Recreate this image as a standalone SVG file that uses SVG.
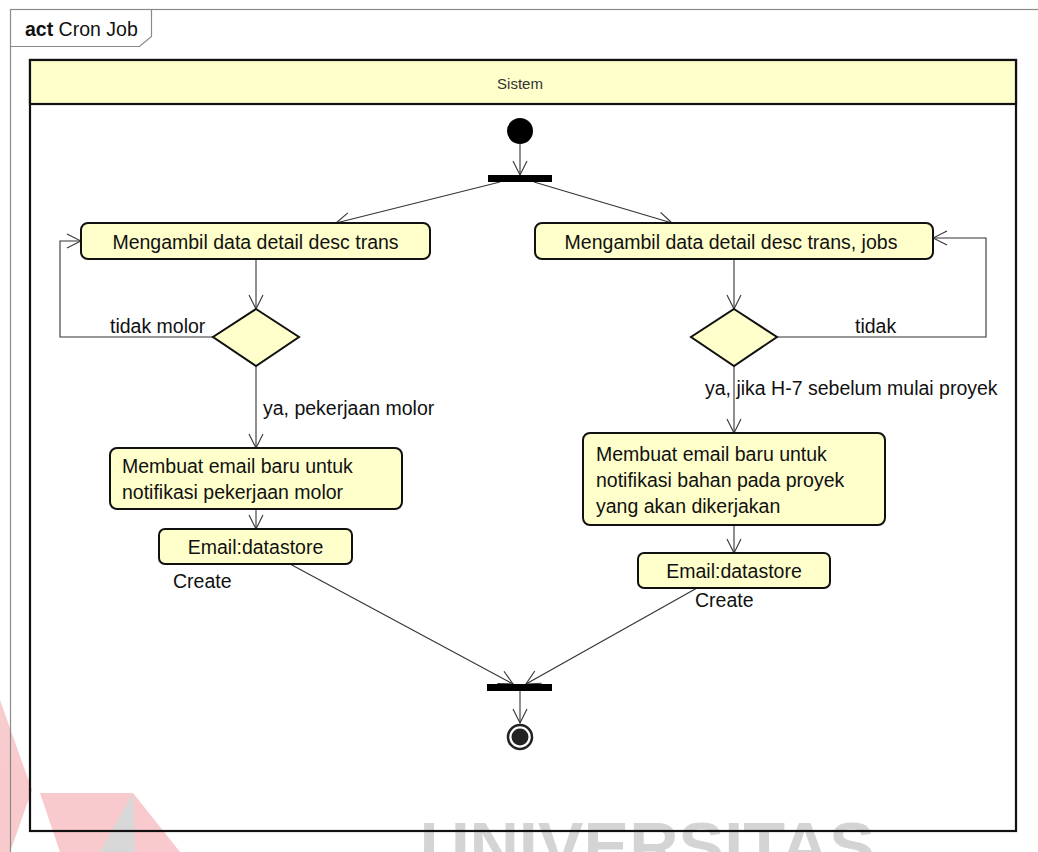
<svg xmlns="http://www.w3.org/2000/svg" width="1038" height="852" viewBox="0 0 1038 852">
  <defs>
    <style>
      .frame { fill: none; stroke: #8a8a8a; stroke-width: 1.2; }
      .lane { fill: #ffffff; stroke: #111; stroke-width: 2.2; }
      .laneHead { fill: #ffffcc; stroke: #111; stroke-width: 2.2; }
      .act { fill: #ffffcc; stroke: #111; stroke-width: 2; }
      .dec { fill: #ffffcc; stroke: #111; stroke-width: 2; }
      .bar { fill: #000; }
      .edge { fill: none; stroke: #333; stroke-width: 1.1; }
      text { font-family: "Liberation Sans", Arial, sans-serif; fill: #111; }
      .lbl { font-size: 19.5px; }
      .mid { text-anchor: middle; }
      .wm { fill: #d4d4d4; font-size: 66px; font-weight: bold; }
    </style>
    <marker id="open" viewBox="0 0 16 16" refX="15" refY="8" markerWidth="16" markerHeight="16" markerUnits="userSpaceOnUse" orient="auto">
      <path d="M1,1 L15,8 L1,15" fill="none" stroke="#333" stroke-width="1.1"/>
    </marker>
  </defs>

  <rect width="1038" height="852" fill="#ffffff"/>

  <!-- faint watermark at the bottom -->
  <g id="watermark">
    <g opacity="0.55">
      <polygon points="0,700 32,790 10,852 0,852" fill="#f3a0a6"/>
      <polygon points="40,793 133,793 180,852 60,852" fill="#f3a0a6"/>
      <polygon points="133,793 100,852 135,852" fill="#b8b8b8"/>
    </g>
    <text class="wm" x="420" y="869" textLength="455" lengthAdjust="spacingAndGlyphs">UNIVERSITAS</text>
  </g>

  <!-- diagram frame with name tab -->
  <g id="frame">
    <rect class="frame" x="10.5" y="9.5" width="1040" height="860"/>
    <path class="frame" d="M10.5,46.5 H139.5 L151.5,36.5 V9.5"/>
    <text x="25" y="36" style="font-size:19.5px"><tspan font-weight="bold">act</tspan> Cron Job</text>
  </g>

  <!-- swimlane -->
  <g id="lane-sistem">
    <rect class="lane" x="30" y="60" width="986" height="771" fill-opacity="0"/>
    <rect class="laneHead" x="30" y="60" width="986" height="44"/>
    <text x="520" y="89" class="mid" style="font-size:15px;fill:#333">Sistem</text>
  </g>

  <!-- connectors -->
  <g id="connectors">
    <line class="edge" x1="520" y1="144" x2="520" y2="175" marker-end="url(#open)"/>
    <line class="edge" x1="500" y1="182" x2="336" y2="223" marker-end="url(#open)"/>
    <line class="edge" x1="534" y1="182" x2="672" y2="223" marker-end="url(#open)"/>
    <line class="edge" x1="256" y1="259" x2="256" y2="309" marker-end="url(#open)"/>
    <polyline class="edge" points="213,337 60,337 60,241 81,241" marker-end="url(#open)"/>
    <line class="edge" x1="256" y1="366" x2="256" y2="448" marker-end="url(#open)"/>
    <line class="edge" x1="256" y1="509" x2="256" y2="529" marker-end="url(#open)"/>
    <line class="edge" x1="290" y1="564" x2="513" y2="684" marker-end="url(#open)"/>
    <line class="edge" x1="734" y1="259" x2="734" y2="309" marker-end="url(#open)"/>
    <polyline class="edge" points="777,337 986,337 986,238 933,238" marker-end="url(#open)"/>
    <line class="edge" x1="734" y1="366" x2="734" y2="433" marker-end="url(#open)"/>
    <line class="edge" x1="734" y1="525" x2="734" y2="553" marker-end="url(#open)"/>
    <line class="edge" x1="697" y1="588" x2="526" y2="684" marker-end="url(#open)"/>
    <line class="edge" x1="520" y1="691" x2="520" y2="723" marker-end="url(#open)"/>
  </g>

  <!-- edge labels -->
  <g id="edge-labels">
    <text class="lbl" x="110" y="333">tidak molor</text>
    <text class="lbl" x="855" y="333">tidak</text>
    <text class="lbl" x="263" y="415">ya, pekerjaan molor</text>
    <text class="lbl" x="705" y="395">ya, jika H-7 sebelum mulai proyek</text>
    <text class="lbl" x="173" y="588">Create</text>
    <text class="lbl" x="695" y="607">Create</text>
  </g>

  <g id="start">
    <circle cx="520" cy="131" r="13" fill="#000"/>
  </g>
  <g id="fork">
    <rect class="bar" x="488" y="175" width="64" height="7"/>
  </g>

  <g id="ambil-desc">
    <rect class="act" x="81" y="223" width="349" height="36" rx="7"/>
    <text class="lbl mid" x="255.5" y="249">Mengambil data detail desc trans</text>
  </g>
  <g id="ambil-jobs">
    <rect class="act" x="535" y="223" width="398" height="36" rx="7"/>
    <text class="lbl mid" x="731" y="249">Mengambil data detail desc trans, jobs</text>
  </g>

  <g id="cek-molor">
    <polygon class="dec" points="256,309 299,337 256,366 213,337"/>
  </g>
  <g id="cek-h7">
    <polygon class="dec" points="734,309 777,337 734,366 691,337"/>
  </g>

  <g id="email-molor">
    <rect class="act" x="110" y="448" width="292" height="61" rx="7"/>
    <text class="lbl" x="122" y="473">Membuat email baru untuk</text>
    <text class="lbl" x="122" y="499">notifikasi pekerjaan molor</text>
  </g>
  <g id="email-bahan">
    <rect class="act" x="583" y="433" width="302" height="92" rx="7"/>
    <text class="lbl" x="596" y="461">Membuat email baru untuk</text>
    <text class="lbl" x="596" y="487">notifikasi bahan pada proyek</text>
    <text class="lbl" x="596" y="513">yang akan dikerjakan</text>
  </g>

  <g id="store-left">
    <rect class="act" x="159" y="529" width="193" height="35" rx="6"/>
    <text class="lbl mid" x="255.5" y="554">Email:datastore</text>
  </g>
  <g id="store-right">
    <rect class="act" x="638" y="553" width="192" height="35" rx="6"/>
    <text class="lbl mid" x="734" y="578">Email:datastore</text>
  </g>

  <g id="join">
    <rect class="bar" x="487" y="684" width="65" height="7"/>
  </g>
  <g id="end">
    <circle cx="520" cy="737" r="12" fill="#fff" stroke="#222" stroke-width="2.5"/>
    <circle cx="520" cy="737" r="8.5" fill="#222"/>
  </g>
</svg>
